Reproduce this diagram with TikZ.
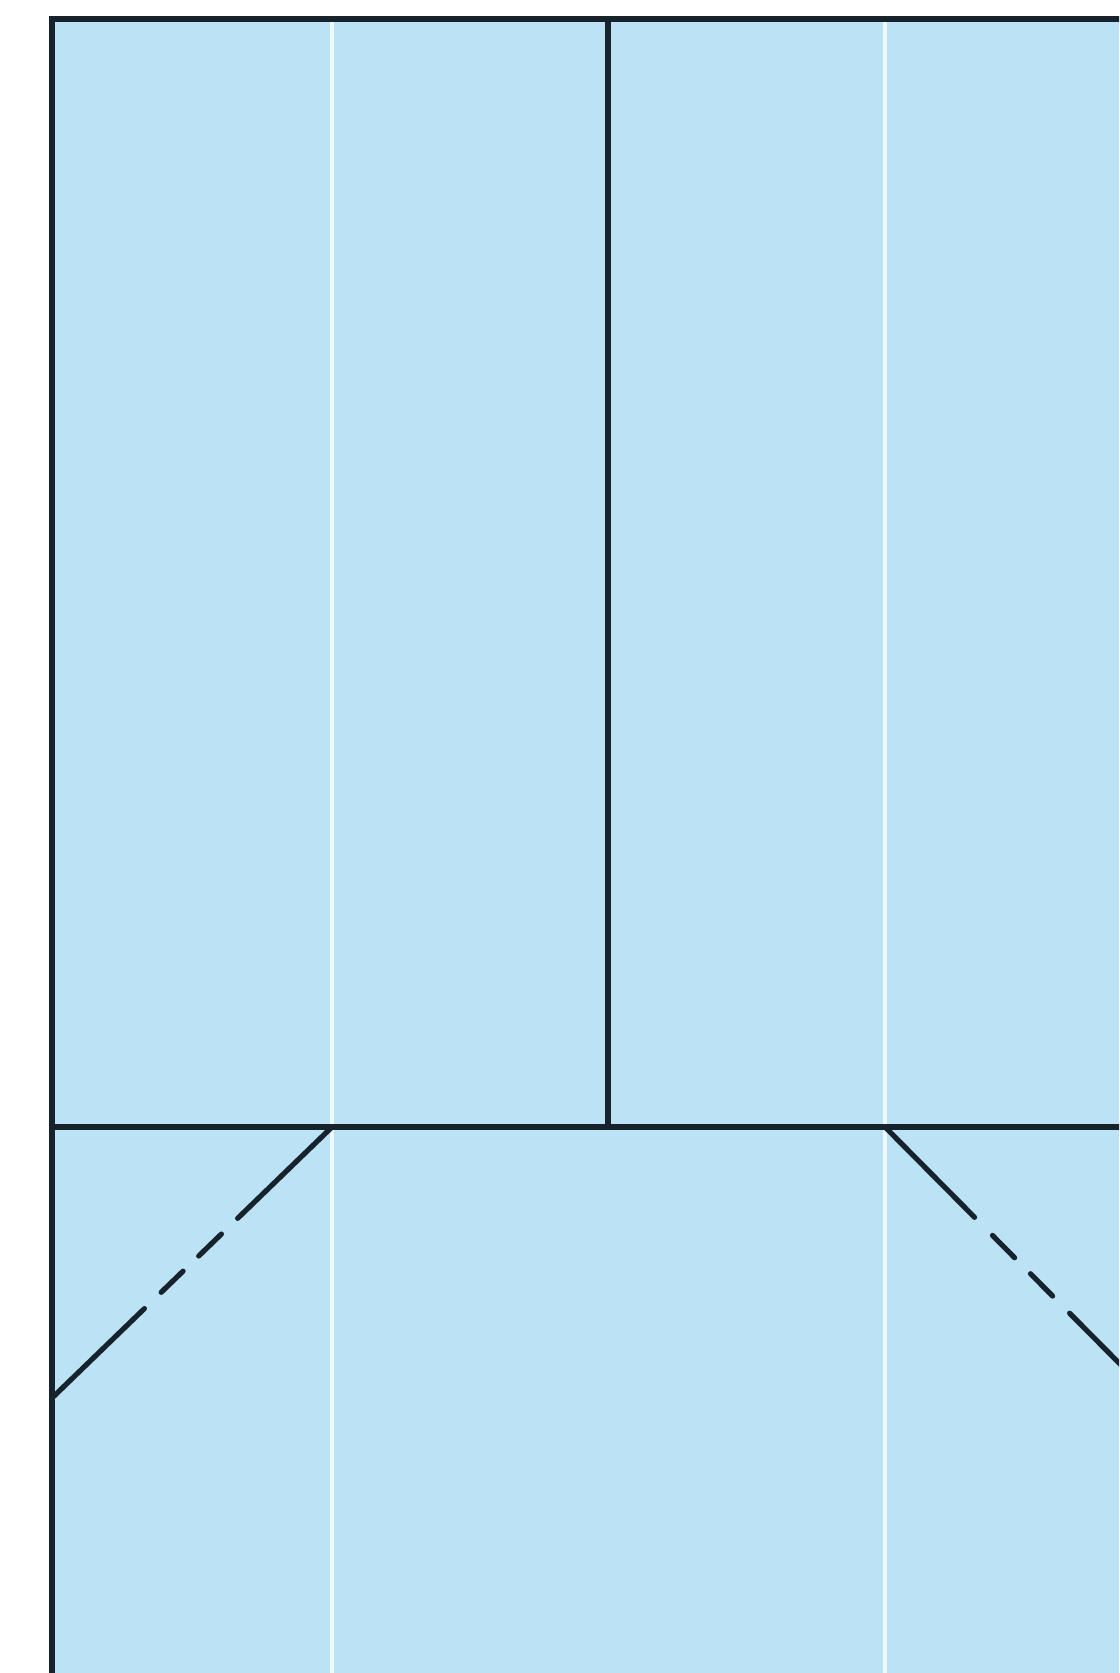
\documentclass[tikz,border=0pt]{standalone}
\usetikzlibrary{calc}
\begin{document}
\begin{tikzpicture}[x=0.5pt,y=-0.5pt,
  fold/.style={line width=2.6pt,draw=foldink,line cap=butt},
  dashpart/.style={line width=2.6pt,draw=foldink,line cap=round},
  crease/.style={line width=2pt,draw=white!94!cyan}]
\definecolor{paper}{RGB}{188,226,245}
\definecolor{foldink}{RGB}{22,34,44}
\useasboundingbox (0,0) rectangle (1119,1673);
\clip (0,0) rectangle (1119,1673);
\fill[white] (0,0) rectangle (1119,1673);
\fill[paper] (52,19) rectangle (1125,1680);
% white creases
\draw[crease] (332,19) -- (332,1680);
\draw[crease] (885,19) -- (885,1680);
% coordinates
\coordinate (A) at (332,1127);
\coordinate (B) at (52,1398);
\coordinate (C) at (886,1128);
\coordinate (D) at (1119,1363);
% folds
\draw[fold] (52,1680) -- (52,19) -- (1125,19);
\draw[fold] (608,19) -- (608,1127);
\draw[fold] (50,1127) -- (1125,1127);
% left diagonal (solid - dash - dash - solid)
\draw[dashpart] (B) -- ($(B)!0.33!(A)$);
\draw[dashpart] ($(B)!0.39!(A)$) -- ($(B)!0.468!(A)$);
\draw[dashpart] ($(B)!0.524!(A)$) -- ($(B)!0.605!(A)$);
\draw[dashpart] ($(B)!0.663!(A)$) -- (A);
% right diagonal
\draw[dashpart] (C) -- ($(C)!0.38!(D)$);
\draw[dashpart] ($(C)!0.457!(D)$) -- ($(C)!0.552!(D)$);
\draw[dashpart] ($(C)!0.62!(D)$) -- ($(C)!0.715!(D)$);
\draw[dashpart] ($(C)!0.788!(D)$) -- ($(C)!1.05!(D)$);
\end{tikzpicture}
\end{document}
